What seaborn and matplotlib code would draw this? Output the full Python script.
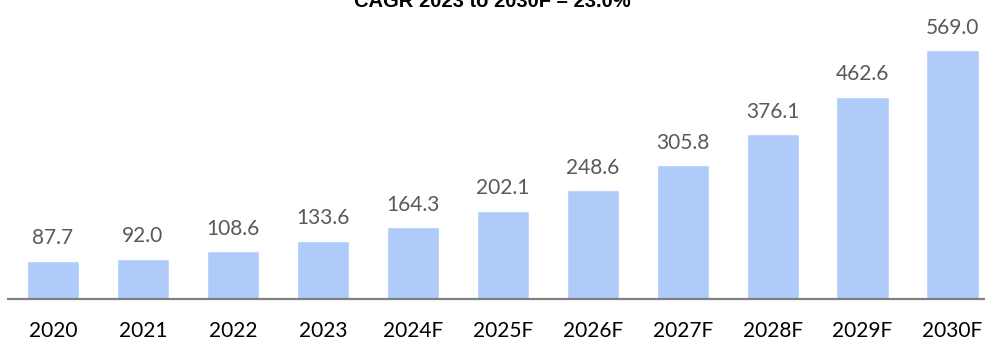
import matplotlib
matplotlib.use("Agg")
import matplotlib.pyplot as plt
import seaborn as sns
import pandas as pd

years = ["2020", "2021", "2022", "2023", "2024F", "2025F", "2026F",
         "2027F", "2028F", "2029F", "2030F"]
values = [87.7, 92.0, 108.6, 133.6, 164.3, 202.1, 248.6,
          305.8, 376.1, 462.6, 569.0]
title = "CAGR 2023 to 2030F – 23.0%"

df = pd.DataFrame({"year": years, "value": values})

sns.set_theme(style="white")
plt.rcParams["font.family"] = ["Lato", "DejaVu Sans"]

W, H, DPI = 985, 340, 100
fig = plt.figure(figsize=(W / DPI, H / DPI), dpi=DPI)
# axes spans slightly beyond the right edge so the baseline runs to the border
ax = fig.add_axes([8 / W, 41 / H, 989.5 / W, 284.4 / H])

sns.barplot(data=df, x="year", y="value", color="#AECBFA", saturation=1,
            width=0.58, ax=ax)

ax.set_xlim(-0.5, len(years) - 0.5)
ax.set_ylim(0, 650)
ax.set_xlabel("")
ax.set_ylabel("")
ax.set_yticks([])
for side in ("top", "right", "left"):
    ax.spines[side].set_visible(False)
ax.spines["bottom"].set_color("#808080")
ax.spines["bottom"].set_linewidth(1.6)
ax.tick_params(axis="x", length=0, pad=16, labelsize=15, labelcolor="black")

for i, v in enumerate(values):
    ax.annotate(f"{v:.1f}", (i, v), xytext=(0, 9), textcoords="offset points",
                ha="center", va="bottom", fontsize=15, color="#595959")

fig.text(0.5, 333 / H, title, ha="center", va="baseline", fontsize=14.5,
         fontweight="bold", family=["Liberation Sans", "DejaVu Sans"],
         color="black")

fig.savefig("out.png", dpi=DPI, facecolor="white")
